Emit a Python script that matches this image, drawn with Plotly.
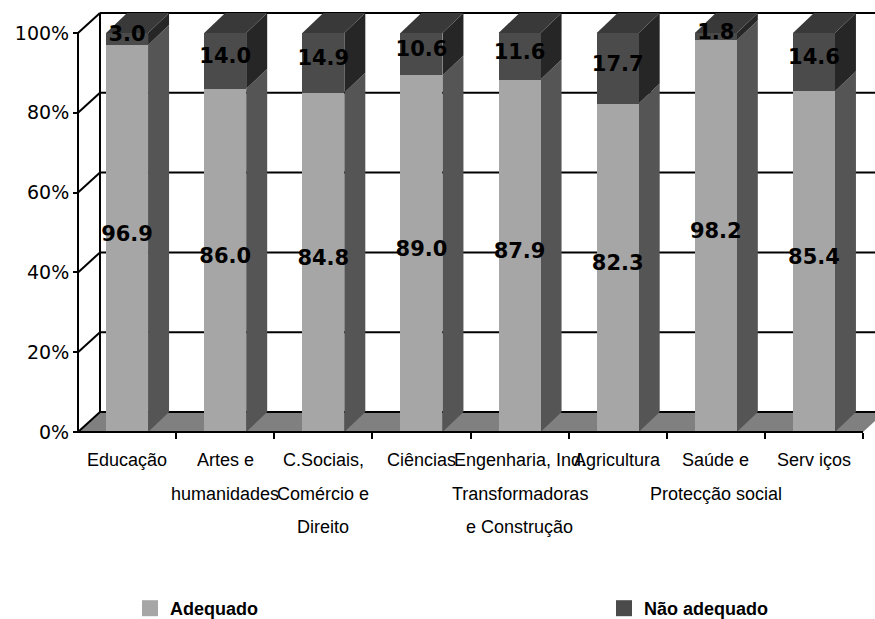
import plotly.graph_objects as go

# ---- data -------------------------------------------------------------
categories = [
    "Educação",
    "Artes e<br>humanidades",
    "C.Sociais,<br>Comércio e<br>Direito",
    "Ciências",
    "Engenharia, Ind.<br>Transformadoras<br>e Construção",
    "Agricultura",
    "Saúde e<br>Protecção social",
    "Serv iços",
]
adequado = [96.9, 86.0, 84.8, 89.0, 87.9, 82.3, 98.2, 85.4]
nao_adequado = [3.0, 14.0, 14.9, 10.6, 11.6, 17.7, 1.8, 14.6]
y_ticks = [0, 20, 40, 60, 80, 100]
y_tick_labels = ["0%", "20%", "40%", "60%", "80%", "100%"]

# ---- page geometry (pixels) -------------------------------------------
W, H = 875, 619
AXIS_X = 78          # left end of the front category axis
CAT_PX = 98.125      # width of one category on the front plane
BASE_Y = 432         # 0 % on the front plane
PCT_PX = 3.99        # pixels per percentage point
WALL_DX_PX, WALL_DY_PX = 22, 20
BAR_DX_PX, BAR_DY_PX = 21, 20
BAR_W = 42 / CAT_PX

n = len(categories)
idx = list(range(n))
x_lo = -0.5
x_hi = n - 0.5
xr = [x_lo - AXIS_X / CAT_PX, x_lo + (W - AXIS_X) / CAT_PX]
yr = [-(H - BASE_Y) / PCT_PX, BASE_Y / PCT_PX]
wdx, wdy = WALL_DX_PX / CAT_PX, WALL_DY_PX / PCT_PX
bdx, bdy = BAR_DX_PX / CAT_PX, BAR_DY_PX / PCT_PX

C_ADEQ = "#a6a6a6"
C_ADEQ_SIDE = "#555555"
C_NAO = "#4b4b4b"
C_NAO_SIDE = "#262626"
C_NAO_TOP = "#393939"
C_FLOOR = "#808080"

FONT_NUM = "DejaVu Sans"
FONT_LAB = "Liberation Sans, Arial, sans-serif"

# 100 % stacked shares
totals = [a + b for a, b in zip(adequado, nao_adequado)]
share_a = [a / t * 100 for a, t in zip(adequado, totals)]
share_n = [b / t * 100 for b, t in zip(nao_adequado, totals)]


def poly(points, fill):
    d = "M" + " L".join(f"{px},{py}" for px, py in points) + " Z"
    return dict(type="path", path=d, xref="x", yref="y", fillcolor=fill,
                line=dict(width=0), layer="below")


def seg(xa, ya, xb, yb, layer="below"):
    return dict(type="line", x0=xa, y0=ya, x1=xb, y1=yb, xref="x", yref="y",
                line=dict(color="black", width=2), layer=layer)


shapes = []
# floor
shapes.append(poly([(x_lo, 0), (x_hi, 0), (x_hi + wdx, wdy), (x_lo + wdx, wdy)], C_FLOOR))
# back wall gridlines and side wall diagonals
for v in y_ticks:
    shapes.append(seg(x_lo + wdx, v + wdy, x_hi + wdx, v + wdy))
    shapes.append(seg(x_lo, v, x_lo + wdx, v + wdy))
shapes.append(seg(x_lo + wdx, wdy, x_lo + wdx, 100 + wdy))
shapes.append(seg(x_lo, 0, x_lo, 100))

# depth faces of the stacked bars
for i in idx:
    xr_edge = i + BAR_W / 2
    xl_edge = i - BAR_W / 2
    lo, hi = 0.0, share_a[i]
    shapes.append(poly([(xr_edge, lo), (xr_edge + bdx, lo + bdy),
                        (xr_edge + bdx, hi + bdy), (xr_edge, hi)], C_ADEQ_SIDE))
    lo, hi = share_a[i], share_a[i] + share_n[i]
    shapes.append(poly([(xr_edge, lo), (xr_edge + bdx, lo + bdy),
                        (xr_edge + bdx, hi + bdy), (xr_edge, hi)], C_NAO_SIDE))
    shapes.append(poly([(xl_edge, hi), (xl_edge + bdx, hi + bdy),
                        (xr_edge + bdx, hi + bdy), (xr_edge, hi)], C_NAO_TOP))

# front edge of the floor
shapes.append(seg(x_lo, 0, x_hi, 0, layer="above"))

fig = go.Figure()
fig.add_trace(go.Bar(x=idx, y=adequado, width=BAR_W, marker=dict(color=C_ADEQ, line=dict(width=0)),
                     name="Adequado", showlegend=False, hoverinfo="skip"))
fig.add_trace(go.Bar(x=idx, y=nao_adequado, width=BAR_W, marker=dict(color=C_NAO, line=dict(width=0)),
                     name="Não adequado", showlegend=False, hoverinfo="skip"))

# value labels
lift = 3 / PCT_PX
num_font = dict(family=FONT_NUM, size=21, color="black", weight="bold")
fig.add_trace(go.Scatter(
    x=idx, y=[a / 2 + lift for a in share_a], mode="text",
    text=[f"{v:.1f}" for v in adequado], textfont=num_font,
    showlegend=False, hoverinfo="skip", cliponaxis=False))
fig.add_trace(go.Scatter(
    x=idx, y=[a + b / 2 + lift for a, b in zip(share_a, share_n)], mode="text",
    text=[f"{v:.1f}" for v in nao_adequado], textfont=num_font,
    showlegend=False, hoverinfo="skip", cliponaxis=False))

# legend entries, each in its own legend box
for name, col, leg in [("Adequado", C_ADEQ, "legend"), ("Não adequado", C_NAO, "legend2")]:
    fig.add_trace(go.Scatter(x=[None], y=[None], mode="markers", name=name, legend=leg,
                             marker=dict(symbol="square", size=18, color=col)))

# category labels, one annotation per text line
LINE1_Y, LINE_STEP = 460, 33.5
annotations = []
for i, lab in enumerate(categories):
    for j, line in enumerate(lab.split("<br>")):
        annotations.append(dict(
            x=i, y=(BASE_Y - (LINE1_Y + j * LINE_STEP)) / PCT_PX, xref="x", yref="y",
            text=line, showarrow=False, xanchor="center", yanchor="middle",
            font=dict(family=FONT_LAB, size=18, color="black")))

legend_common = dict(orientation="h", xanchor="left", y=-8 / H, yanchor="bottom",
                     font=dict(family=FONT_LAB, size=18, color="black", weight="bold"),
                     bgcolor="rgba(0,0,0,0)", borderwidth=0)

fig.update_layout(
    width=W, height=H, margin=dict(l=0, r=0, t=0, b=0, pad=0, autoexpand=False),
    paper_bgcolor="white", plot_bgcolor="white",
    barmode="stack", barnorm="percent", bargap=0,
    shapes=shapes, annotations=annotations,
    xaxis=dict(range=xr, anchor="free", position=(H - BASE_Y) / H,
               showgrid=False, zeroline=False, showline=False,
               tickmode="array", tickvals=[k + 0.5 for k in range(n)],
               ticks="outside", ticklen=6, tickwidth=2, tickcolor="black",
               showticklabels=False, fixedrange=True),
    yaxis=dict(range=yr, anchor="free", position=AXIS_X / W,
               showgrid=False, zeroline=False, showline=False,
               tickmode="array", tickvals=y_ticks, ticktext=y_tick_labels,
               ticks="outside", ticklen=5, tickwidth=2, tickcolor="black",
               tickfont=dict(family=FONT_NUM, size=19, color="black"),
               fixedrange=True),
    legend=dict(x=130 / W, **legend_common),
    legend2=dict(x=604 / W, **legend_common),
    showlegend=True,
)

fig.write_html("out.html")
